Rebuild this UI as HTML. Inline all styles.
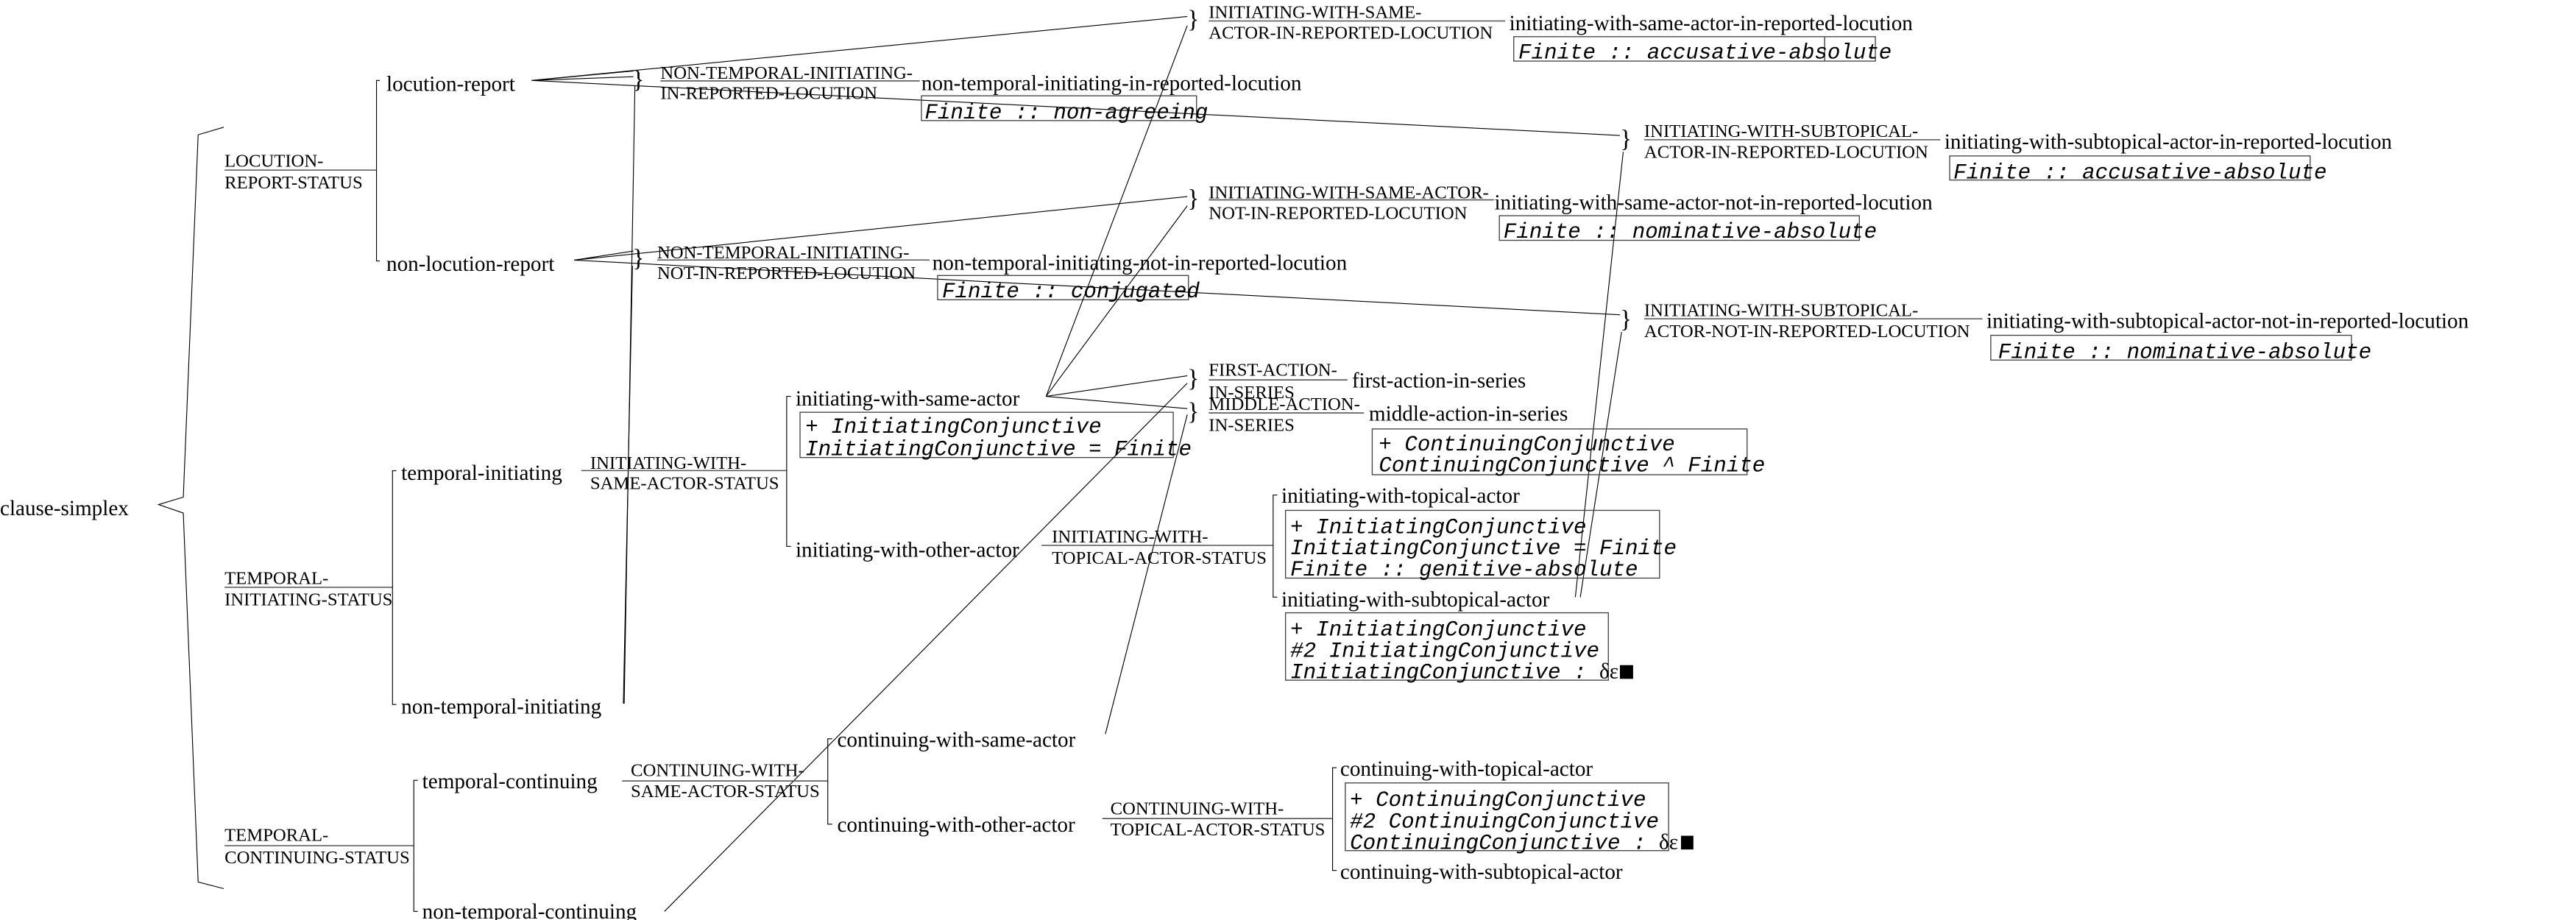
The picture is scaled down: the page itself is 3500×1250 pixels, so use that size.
<!DOCTYPE html>
<html><head><meta charset="utf-8"><style>
html,body{margin:0;padding:0;background:#fff;width:3500px;height:1250px;overflow:hidden}
svg{display:block}
.s{font-family:"Liberation Serif",serif;font-size:13px;fill:#000}
.c{font-family:"Liberation Serif",serif;font-size:11px;fill:#000}
.m{font-family:"Liberation Mono",monospace;font-size:13px;font-style:italic;fill:#000}
.b{font-family:"Liberation Serif",serif;font-size:15px;fill:#000}
line,polyline{stroke:#000;stroke-width:0.5;fill:none}
.u{stroke:#555;stroke-width:0.7}
rect{fill:none;stroke:#444;stroke-width:0.6}
</style></head><body>
<svg width="3500" height="1250" viewBox="0 0 1560 557" preserveAspectRatio="none" xmlns="http://www.w3.org/2000/svg">
<!-- big brace -->
<polyline points="135.5,77 120,81.6 111,301 96,305.5 111,310.6 120,534 135.5,538"/>
<text class="s" x="0" y="312">clause-simplex</text>

<!-- LOCUTION-REPORT-STATUS -->
<text class="c" x="136" y="101">LOCUTION-</text>
<line class="u" x1="136" y1="103" x2="228" y2="103"/>
<text class="c" x="136" y="114">REPORT-STATUS</text>
<polyline points="230,48.7 228,48.7 228,158 230,158"/>
<text class="s" x="234" y="55">locution-report</text>
<text class="s" x="234" y="164">non-locution-report</text>

<!-- TEMPORAL-INITIATING-STATUS -->
<text class="c" x="136" y="353.6">TEMPORAL-</text>
<line class="u" x1="136" y1="355.6" x2="237.7" y2="355.6"/>
<text class="c" x="136" y="366.4">INITIATING-STATUS</text>
<polyline points="240,285 237.7,285 237.7,426.5 240,426.5"/>
<text class="s" x="243" y="290.5">temporal-initiating</text>
<text class="s" x="243" y="432">non-temporal-initiating</text>

<!-- TEMPORAL-CONTINUING-STATUS -->
<text class="c" x="136" y="509">TEMPORAL-</text>
<line class="u" x1="136" y1="512" x2="250.6" y2="512"/>
<text class="c" x="136" y="522.7">CONTINUING-STATUS</text>
<polyline points="253,472.4 250.6,472.4 250.6,551.8 253,551.8"/>
<text class="s" x="255.7" y="477.3">temporal-continuing</text>
<text class="s" x="255.7" y="556">non-temporal-continuing</text>

<!-- connectors from locution-report -->
<line x1="322" y1="48.7" x2="719" y2="10"/>
<line x1="322" y1="48.7" x2="383.6" y2="46.4"/>
<line x1="322" y1="48.7" x2="383.6" y2="43"/>
<line x1="322" y1="48.7" x2="981" y2="82"/>
<!-- from non-locution-report -->
<line x1="347.7" y1="157.5" x2="383.6" y2="152"/>
<line x1="347.7" y1="157.5" x2="719" y2="119"/>
<line x1="347.7" y1="157.5" x2="981" y2="190.6"/>
<!-- long verticals to non-temporal-initiating -->
<line x1="384.5" y1="52" x2="378" y2="426"/>
<line x1="383" y1="161" x2="377.5" y2="426"/>

<!-- NON-TEMPORAL-INITIATING-IN-REPORTED -->
<text class="b" x="383" y="53">}</text>
<text class="c" x="400" y="47.7">NON-TEMPORAL-INITIATING-</text>
<line class="u" x1="400" y1="49" x2="557" y2="49"/>
<text class="c" x="400" y="60">IN-REPORTED-LOCUTION</text>
<text class="s" x="558" y="54.5">non-temporal-initiating-in-reported-locution</text>
<rect x="558" y="58" width="166.6" height="15"/>
<text class="m" x="560" y="71.8">Finite :: non-agreeing</text>

<!-- NON-TEMPORAL-INITIATING-NOT-IN-REPORTED -->
<text class="b" x="383" y="161">}</text>
<text class="c" x="398" y="156.4">NON-TEMPORAL-INITIATING-</text>
<line class="u" x1="398" y1="157.4" x2="563" y2="157.4"/>
<text class="c" x="398" y="168.8">NOT-IN-REPORTED-LOCUTION</text>
<text class="s" x="564.6" y="163.3">non-temporal-initiating-not-in-reported-locution</text>
<rect x="567.8" y="166.8" width="151.9" height="14.7"/>
<text class="m" x="570.5" y="180">Finite :: conjugated</text>

<!-- INITIATING-WITH-SAME-ACTOR-IN-REPORTED -->
<text class="b" x="719" y="16.5">}</text>
<text class="c" x="732" y="10.9">INITIATING-WITH-SAME-</text>
<line class="u" x1="732" y1="12.7" x2="911.5" y2="12.7"/>
<text class="c" x="732" y="23.3">ACTOR-IN-REPORTED-LOCUTION</text>
<text class="s" x="914" y="18.2">initiating-with-same-actor-in-reported-locution</text>
<rect x="916.7" y="22.2" width="219" height="14.8"/>
<line class="u" x1="1105" y1="22.2" x2="1105" y2="37"/>
<text class="m" x="919.5" y="35.5">Finite :: accusative-absolute</text>

<!-- INITIATING-WITH-SAME-ACTOR-NOT-IN-REPORTED -->
<text class="b" x="719" y="125">}</text>
<text class="c" x="732" y="120">INITIATING-WITH-SAME-ACTOR-</text>
<line class="u" x1="732" y1="121" x2="904.7" y2="121"/>
<text class="c" x="732" y="132.5">NOT-IN-REPORTED-LOCUTION</text>
<text class="s" x="905" y="126.8">initiating-with-same-actor-not-in-reported-locution</text>
<rect x="908" y="130.6" width="218" height="14.9"/>
<text class="m" x="910.5" y="144">Finite :: nominative-absolute</text>

<!-- INITIATING-WITH-SUBTOPICAL-ACTOR-IN-REPORTED -->
<text class="b" x="981" y="89">}</text>
<text class="c" x="995.7" y="82.8">INITIATING-WITH-SUBTOPICAL-</text>
<line class="u" x1="995.7" y1="84.6" x2="1175" y2="84.6"/>
<text class="c" x="995.7" y="95.5">ACTOR-IN-REPORTED-LOCUTION</text>
<text class="s" x="1177.5" y="90">initiating-with-subtopical-actor-in-reported-locution</text>
<rect x="1180.7" y="94.4" width="218.3" height="14.6"/>
<text class="m" x="1183" y="108">Finite :: accusative-absolute</text>

<!-- INITIATING-WITH-SUBTOPICAL-ACTOR-NOT-IN-REPORTED -->
<text class="b" x="981" y="198">}</text>
<text class="c" x="995.7" y="191.3">INITIATING-WITH-SUBTOPICAL-</text>
<line class="u" x1="995.7" y1="193" x2="1200.6" y2="193"/>
<text class="c" x="995.7" y="204">ACTOR-NOT-IN-REPORTED-LOCUTION</text>
<text class="s" x="1203" y="198.6">initiating-with-subtopical-actor-not-in-reported-locution</text>
<rect x="1205.6" y="203" width="218.4" height="15"/>
<text class="m" x="1210" y="216.8">Finite :: nominative-absolute</text>

<!-- lines from subtopical braces down -->
<line x1="983" y1="92" x2="954" y2="361.6"/>
<line x1="982" y1="201" x2="957" y2="361.6"/>

<!-- INITIATING-WITH-SAME-ACTOR-STATUS -->
<text class="c" x="357.4" y="283.8">INITIATING-WITH-</text>
<line class="u" x1="352" y1="284.9" x2="476.4" y2="284.9"/>
<text class="c" x="357.4" y="296">SAME-ACTOR-STATUS</text>
<polyline points="479,240 476.4,240 476.4,330.8 479,330.8"/>
<text class="s" x="481.8" y="245.6">initiating-with-same-actor</text>
<rect x="484.5" y="249.6" width="226" height="27.4"/>
<text class="m" x="487.7" y="262">+ InitiatingConjunctive</text>
<text class="m" x="487.7" y="275.6">InitiatingConjunctive = Finite</text>
<text class="s" x="481.8" y="337.2">initiating-with-other-actor</text>

<!-- fan from initiating-with-same-actor -->
<line x1="633.5" y1="240" x2="719" y2="227.5"/>
<line x1="633.5" y1="240" x2="719" y2="247.4"/>
<line x1="633.5" y1="240" x2="719" y2="15.5"/>
<line x1="633.5" y1="240" x2="719" y2="124.6"/>
<line x1="719" y1="232" x2="402.4" y2="551.8"/>
<line x1="719" y1="251" x2="669.4" y2="444.4"/>

<!-- FIRST / MIDDLE ACTION -->
<text class="b" x="719" y="234">}</text>
<text class="c" x="732" y="227.4">FIRST-ACTION-</text>
<line class="u" x1="732" y1="230" x2="816" y2="230"/>
<text class="c" x="732" y="241">IN-SERIES</text>
<text class="s" x="818.7" y="234.6">first-action-in-series</text>
<text class="b" x="719" y="254">}</text>
<text class="c" x="732" y="248.3">MIDDLE-ACTION-</text>
<line class="u" x1="732" y1="250" x2="826" y2="250"/>
<text class="c" x="732" y="261">IN-SERIES</text>
<text class="s" x="829" y="254.6">middle-action-in-series</text>
<rect x="831" y="259.7" width="227" height="27.7"/>
<text class="m" x="835" y="272.8">+ ContinuingConjunctive</text>
<text class="m" x="835" y="285.5">ContinuingConjunctive ^ Finite</text>

<!-- INITIATING-WITH-TOPICAL-ACTOR-STATUS -->
<text class="c" x="637" y="328.4">INITIATING-WITH-</text>
<line class="u" x1="630.7" y1="330.2" x2="771" y2="330.2"/>
<text class="c" x="637" y="341.3">TOPICAL-ACTOR-STATUS</text>
<polyline points="773.5,299.7 771,299.7 771,361.5 773.5,361.5"/>
<text class="s" x="776" y="304.4">initiating-with-topical-actor</text>
<rect x="778.5" y="309" width="226.5" height="41"/>
<text class="m" x="781.4" y="322.8">+ InitiatingConjunctive</text>
<text class="m" x="781.4" y="335.6">InitiatingConjunctive = Finite</text>
<text class="m" x="781.4" y="348.5">Finite :: genitive-absolute</text>
<text class="s" x="776" y="367.2">initiating-with-subtopical-actor</text>
<rect x="778.5" y="371" width="195.5" height="40.8"/>
<text class="m" x="781.4" y="384.7">+ InitiatingConjunctive</text>
<text class="m" x="781.4" y="397.6">#2 InitiatingConjunctive</text>
<text class="m" x="781.4" y="410.6">InitiatingConjunctive : <tspan style="font-family:'Liberation Serif',serif;font-style:normal">δε</tspan></text>
<rect x="981" y="402.7" width="8" height="8.3" style="fill:#000;stroke:none"/>

<!-- CONTINUING-WITH-SAME-ACTOR-STATUS -->
<text class="c" x="382" y="470">CONTINUING-WITH-</text>
<line class="u" x1="376.8" y1="472.8" x2="501.3" y2="472.8"/>
<text class="c" x="382" y="482.6">SAME-ACTOR-STATUS</text>
<polyline points="504,447.3 501.3,447.3 501.3,499 504,499"/>
<text class="s" x="507" y="452">continuing-with-same-actor</text>
<text class="s" x="507" y="503.6">continuing-with-other-actor</text>

<!-- CONTINUING-WITH-TOPICAL-ACTOR-STATUS -->
<text class="c" x="672.4" y="493">CONTINUING-WITH-</text>
<line class="u" x1="667.6" y1="495.6" x2="807" y2="495.6"/>
<text class="c" x="672.4" y="505.7">TOPICAL-ACTOR-STATUS</text>
<polyline points="809.5,464.8 807,464.8 807,527 809.5,527"/>
<text class="s" x="811.6" y="469.7">continuing-with-topical-actor</text>
<rect x="814.7" y="474" width="195.8" height="41"/>
<text class="m" x="817.5" y="488">+ ContinuingConjunctive</text>
<text class="m" x="817.5" y="501">#2 ContinuingConjunctive</text>
<text class="m" x="817.5" y="514">ContinuingConjunctive : <tspan style="font-family:'Liberation Serif',serif;font-style:normal">δε</tspan></text>
<rect x="1018" y="506" width="7.5" height="8.3" style="fill:#000;stroke:none"/>
<text class="s" x="811.6" y="532">continuing-with-subtopical-actor</text>
</svg>
</body></html>
